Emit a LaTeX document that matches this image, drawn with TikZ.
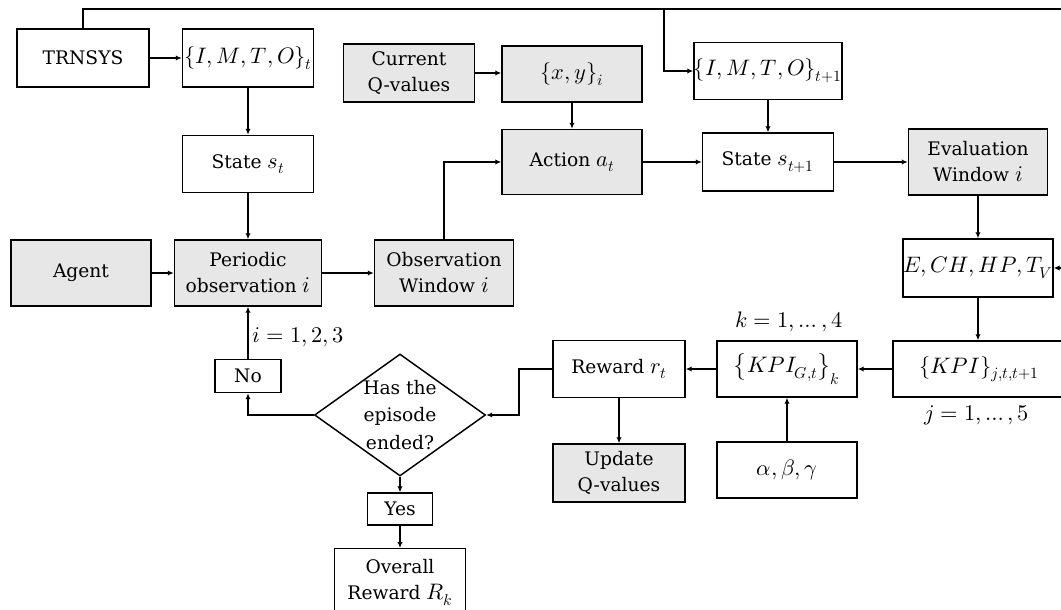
\documentclass[tikz,border=0pt]{standalone}
\usepackage{fontspec}
\usepackage{unicode-math}
\setmainfont{DejaVu Serif}
\setmathfont{Latin Modern Math}[Scale=1.2]
\usetikzlibrary{arrows.meta,shapes.geometric}
\definecolor{boxgray}{RGB}{231,231,231}
\newcommand{\boxfont}{\fontsize{14}{19.5}\selectfont}
\begin{document}
\begin{tikzpicture}[
  x=0.75pt, y=-0.75pt,
  sz/.style 2 args={minimum width={#1*0.75pt}, minimum height={#2*0.75pt}},
  box/.style={draw, line width=1.1pt, inner sep=0pt, align=center, font=\boxfont, fill=white},
  shade/.style={box, fill=boxgray},
  txt/.style={inner sep=0pt, font=\boxfont},
  arr/.style={line width=1pt, -{Latex[length=4.5pt,width=4pt]}},
  ln/.style={line width=1pt}
]
\useasboundingbox (0,0) rectangle (1061,610);

% top row
\node[box, sz={132}{58}] (trn) at (83,58) {TRNSYS};
\node[box, sz={131}{58}] (imt) at (248,58) {$\{I,M,T,O\}_t$};
\node[shade, sz={131}{58}] (cq) at (409,73) {Current\\Q-values};
\node[shade, sz={140}{56}] (xy) at (572,74) {$\{x,y\}_i$};
\node[box, sz={139}{57}] (imt1) at (768,71) {$\{I,M,T,O\}_{t+1}$};

% second row
\node[box, sz={131}{57}] (st) at (248,164) {State $s_t$};
\node[shade, sz={140}{65}] (act) at (572,162) {Action $a_t$};
\node[box, sz={131}{58}] (st1) at (768,162) {State $s_{t+1}$};
\node[shade, sz={139}{66}] (ev) at (978,162) {Evaluation\\Window $i$};

% third row
\node[shade, sz={140}{66}] (agent) at (81,273) {Agent};
\node[shade, sz={147}{66}] (per) at (248,273) {Periodic\\observation $i$};
\node[shade, sz={139}{66}] (obs) at (444,273) {Observation\\Window $i$};
\node[box, sz={139}{58}] (ech) at (978,268) {$E,CH,HP,T_V$};

% lower part
\node[box, sz={66}{33}] (no) at (248,376) {No};
\node[box, sz={132}{57}] (rew) at (619,369) {Reward $r_t$};
\node[box, sz={140}{56}] (kpig) at (787,369) {$\left\{KPI_{G,t}\right\}_k$};
\node[box, sz={172}{56}] (kpij) at (979,369) {$\{KPI\}_{j,t,t+1}$};
\node[box, sz={140}{56}] (abg) at (787,470) {$\alpha,\beta,\gamma$};
\node[shade, sz={132}{58}] (upd) at (619,473) {Update\\Q-values};
\node[draw, line width=1.1pt, diamond, inner sep=0pt, sz={171}{122},
      label={[align=center, font=\fontsize{14}{20.5}\selectfont]center:Has the\\episode\\ended?}] (dia) at (400,415) {};
\node[box, sz={65}{32}] (yes) at (400,509) {Yes};
\node[box, sz={131}{68}, anchor=north] (ovr) at (400,548) {Overall\\Reward $R_k$};

% index labels
\node[txt] (lbi) at (298,337) {$i = 1,2,3$};
\node[txt] (lbk) at (789,322) {$k = 1, \dots, 4$};
\node[txt] (lbj) at (977,415) {$j = 1, \dots, 5$};

% helper points of the feedback loop
\coordinate (topR) at (1064,9);
\coordinate (br) at (664,9);
\coordinate (rj) at (519,369);

% connectors
\draw[arr] (trn.east) -- (imt.west);
\draw[arr] (imt.south) -- (st.north);
\draw[arr] (st.south) -- (per.north);
\draw[arr] (agent.east) -- (per.west);
\draw[arr] (per.east) -- (obs.west);
\draw[arr] (obs.north) |- (act.west);
\draw[arr] (cq.east) -- (cq.east -| xy.west);
\draw[arr] (xy.south) -- (act.north);
\draw[arr] (act.east) -- (act.east -| st1.west);
\draw[arr] (imt1.south) -- (st1.north);
\draw[arr] (st1.east) -- (st1.east -| ev.west);
\draw[arr] (ev.south) -- (ech.north);
\draw[arr] (ech.south) -- (ech.south |- kpij.north);
\draw[arr] (kpij.west) -- (kpig.east);
\draw[arr] (abg.north) -- (kpig.south);
\draw[arr] (kpig.west) -- (rew.east);
\draw[arr] (rew.south) -- (upd.north);
\draw[arr] (rew.west) -- (rj) |- (dia.east);
\draw[arr] (dia.west) -| (no.south);
\draw[arr] (no.north) -- (per.south);
\draw[arr] (dia.south) -- (yes.north);
\draw[arr] (yes.south) -- (ovr.north);
\draw[arr] (trn.north) |- (topR) |- (ech.east);
\draw[arr] (br) |- (imt1.west);
\end{tikzpicture}
\end{document}
